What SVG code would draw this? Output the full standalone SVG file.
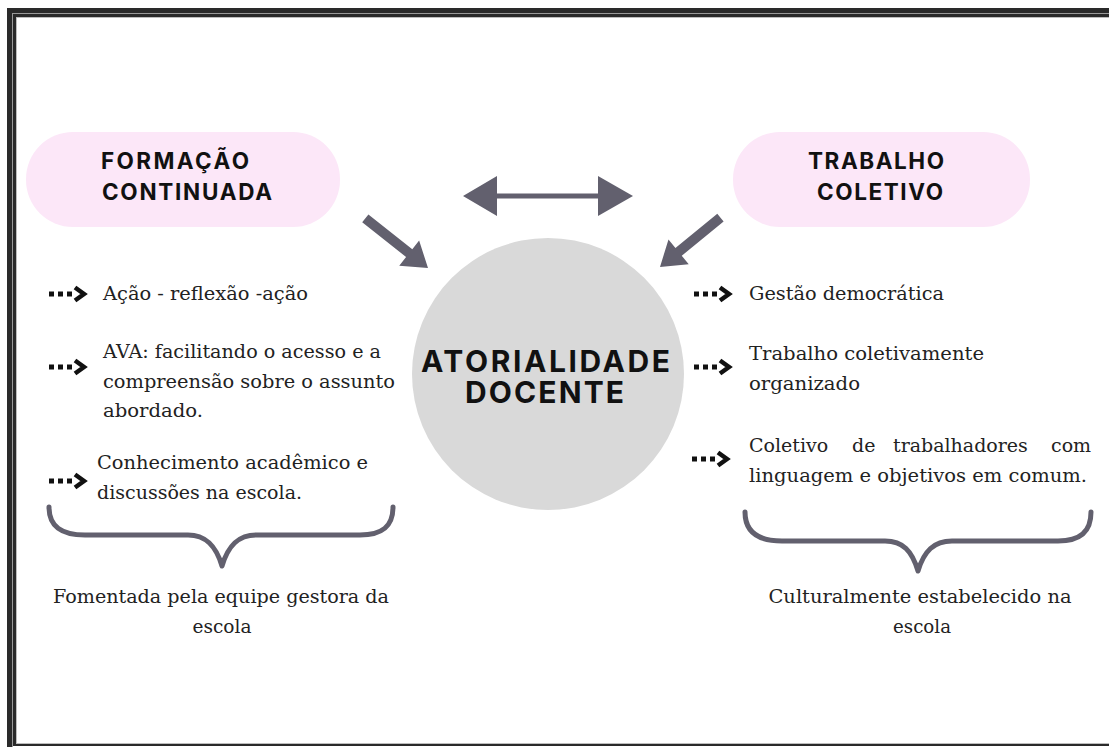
<svg xmlns="http://www.w3.org/2000/svg" width="1109" height="747" viewBox="0 0 1109 747">
<style>
.pill{fill:#fce7f8}
.head{font-family:Inter,"Liberation Sans",sans-serif;font-weight:700;font-size:22.5px;fill:#111}
.core{font-family:Inter,"Liberation Sans",sans-serif;font-weight:700;font-size:30px;fill:#111}
.body{font-family:"DejaVu Serif","Liberation Serif",serif;font-size:19px;fill:#222}
.arr{fill:#62606e}
.brace{fill:none;stroke:#62606e;stroke-width:5;stroke-linecap:round;stroke-linejoin:round}
</style>
<defs>
<g id="bullet">
<rect x="0" y="-2.5" width="5" height="5" fill="#111"/>
<rect x="9" y="-2.5" width="5" height="5" fill="#111"/>
<rect x="18" y="-2.5" width="5" height="5" fill="#111"/>
<path d="M26,-6.5 L35,0 L26,6.5" fill="none" stroke="#111" stroke-width="4.5" stroke-linejoin="miter"/>
</g>
</defs>
<rect width="1109" height="747" fill="#fff"/>
<g id="frame">
<rect x="9.5" y="10.5" width="1200" height="1200" fill="none" stroke="#2a2a2a" stroke-width="5"/>
<rect x="12.5" y="13.5" width="1200" height="1200" fill="none" stroke="#9a9a9a" stroke-width="1"/>
<rect x="14.5" y="15.5" width="1200" height="729" fill="none" stroke="#2a2a2a" stroke-width="3"/>
<rect x="16.5" y="17.5" width="1200" height="726" fill="none" stroke="#bdbdbd" stroke-width="1"/>
</g>
<g id="formacao">
<rect class="pill" x="26" y="132" width="314" height="95" rx="47"/>
<text class="head" x="101" y="169" textLength="148" lengthAdjust="spacing">FORMAÇÃO</text>
<text class="head" x="102" y="200" textLength="170" lengthAdjust="spacing">CONTINUADA</text>
</g>
<g id="trabalho">
<rect class="pill" x="733" y="132" width="297" height="95" rx="47"/>
<text class="head" x="808" y="169" textLength="136" lengthAdjust="spacing">TRABALHO</text>
<text class="head" x="817" y="200" textLength="126" lengthAdjust="spacing">COLETIVO</text>
</g>
<g id="atorialidade">
<circle cx="548" cy="374" r="136" fill="#d9d9d9"/>
<text class="core" x="421" y="372" textLength="249" lengthAdjust="spacing">ATORIALIDADE</text>
<text class="core" x="465" y="403" textLength="159" lengthAdjust="spacing">DOCENTE</text>
</g>
<g id="connectors">
<path class="arr" d="M463,196 L497,176 L497,193.5 L598,193.5 L598,176 L633,196 L598,216 L598,198.5 L497,198.5 L497,216 Z"/>
<g transform="translate(428,268) rotate(38.4)">
<path class="arr" d="M0,0 L-24,-16 L-24,-5 L-80,-5 L-80,5 L-24,5 L-24,16 Z"/>
</g>
<g transform="translate(660,267) rotate(140.8)">
<path class="arr" d="M0,0 L-24,-16 L-24,-5 L-78,-5 L-78,5 L-24,5 L-24,16 Z"/>
</g>
</g>
<g id="left-list">
<use href="#bullet" x="49" y="294"/>
<text class="body" x="103" y="300" textLength="205" lengthAdjust="spacingAndGlyphs">Ação - reflexão -ação</text>
<use href="#bullet" x="49" y="367"/>
<text class="body" x="103" y="358" textLength="278" lengthAdjust="spacingAndGlyphs">AVA: facilitando o acesso e a</text>
<text class="body" x="103" y="388" textLength="292" lengthAdjust="spacingAndGlyphs">compreensão sobre o assunto</text>
<text class="body" x="103" y="417" textLength="100" lengthAdjust="spacingAndGlyphs">abordado.</text>
<use href="#bullet" x="49" y="481"/>
<text class="body" x="97" y="469" textLength="271" lengthAdjust="spacingAndGlyphs">Conhecimento acadêmico e</text>
<text class="body" x="97" y="499" textLength="205" lengthAdjust="spacingAndGlyphs">discussões na escola.</text>
</g>
<g id="right-list">
<use href="#bullet" x="694" y="294"/>
<text class="body" x="749" y="300" textLength="195" lengthAdjust="spacingAndGlyphs">Gestão democrática</text>
<use href="#bullet" x="694" y="367"/>
<text class="body" x="749" y="360" textLength="235" lengthAdjust="spacingAndGlyphs">Trabalho coletivamente</text>
<text class="body" x="749" y="390" textLength="111" lengthAdjust="spacingAndGlyphs">organizado</text>
<use href="#bullet" x="692" y="459"/>
<text class="body" y="452"><tspan x="749">Coletivo</tspan><tspan x="852">de</tspan><tspan x="893">trabalhadores</tspan><tspan x="1051">com</tspan></text>
<text class="body" x="749" y="482" textLength="338" lengthAdjust="spacingAndGlyphs">linguagem e objetivos em comum.</text>
</g>
<g id="brace-left">
<path class="brace" d="M49,507 C49,527 62,535 85,535 L188,535 C206,535 216,546 222,566 C228,546 238,535 256,535 L360,535 C382,535 393,527 393,507"/>
<text class="body" x="221" y="603" text-anchor="middle" textLength="336" lengthAdjust="spacingAndGlyphs">Fomentada pela equipe gestora da</text>
<text class="body" x="222" y="633" text-anchor="middle" textLength="59" lengthAdjust="spacingAndGlyphs">escola</text>
</g>
<g id="brace-right">
<path class="brace" d="M745,512 C745,532 758,541 782,541 L885,541 C903,541 912,551 918,571 C924,551 934,541 952,541 L1058,541 C1080,541 1091,532 1091,512"/>
<text class="body" x="920" y="603" text-anchor="middle" textLength="303" lengthAdjust="spacingAndGlyphs">Culturalmente estabelecido na</text>
<text class="body" x="922" y="633" text-anchor="middle" textLength="58" lengthAdjust="spacingAndGlyphs">escola</text>
</g>
</svg>
